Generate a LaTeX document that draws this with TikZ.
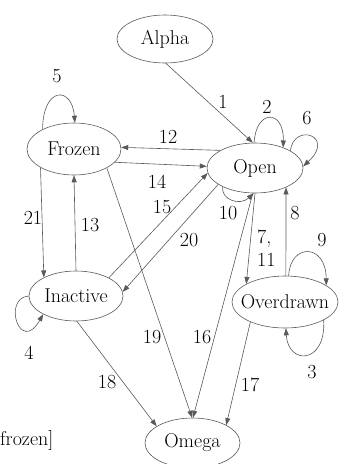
\documentclass[tikz,border=0pt]{standalone}
\usetikzlibrary{shapes.geometric,arrows.meta}

\begin{document}
\begin{tikzpicture}[x=10pt,y=10pt]
	\tikzstyle{every node}+=[inner sep=0pt,font=\fontsize{20}{23}\selectfont]
	\tikzstyle{state}=[draw=black!65,ellipse,line width=0.6pt]
	\tikzstyle{edge}=[draw=black!65,line width=0.6pt,-{Triangle[length=7pt,width=5pt]}]
	\useasboundingbox (0,0) rectangle (34,-46.4);
	\node [state,minimum width=96pt,minimum height=48pt] (alpha) at (16.5,-3.9) {};
	\node (talpha) at (alpha) {Alpha};
	\node [state,minimum width=94pt,minimum height=52pt] (frozen) at (7.4,-14.9) {};
	\node (tfrozen) at (frozen) {Frozen};
	\node [state,minimum width=96pt,minimum height=50pt] (open) at (25.5,-16.8) {};
	\node (topen) at (open) {Open};
	\node [state,minimum width=94pt,minimum height=50pt] (inactive) at (7.6,-29.6) {};
	\node (tinactive) at (inactive) {Inactive};
	\node [state,minimum width=106pt,minimum height=52pt] (overdrawn) at (28.5,-30.2) {};
	\node (toverdrawn) at (overdrawn) {Overdrawn};
	\node [state,minimum width=95pt,minimum height=50pt] (omega) at (19.25,-44.3) {};
	\node (tomega) at (omega) {Omega};
	\node [anchor=west] (lfrozen) at (0,-44.0) {frozen]};
	\draw [edge] (alpha.-88) -- (open.95);
	\node (l1) at (22.3,-10.2) {1};
	\draw [edge] (open.92) .. controls (25.6,-10.9) and (28.4,-10.9) .. (open.36);
	\node (l2) at (26.7,-10.7) {2};
	\draw [edge] (open.26) .. controls (29.4,-12.2) and (33.6,-13.6) .. (open.2);
	\node (l6) at (30.7,-11.8) {6};
	\draw [edge] (frozen.148) .. controls (4.3,-8.6) and (7.2,-8.6) .. (frozen.88);
	\node (l5) at (5.7,-7.6) {5};
	\draw [edge] (open.153) -- (frozen.2);
	\node (l12) at (16.8,-13.7) {12};
	\draw [edge] (frozen.-18) -- (open.178);
	\node (l14) at (15.7,-18.2) {14};
	\draw [edge] (inactive.29) -- (open.186);
	\node (l15) at (16.2,-20.7) {15};
	\draw [edge] (open.204) -- (inactive.5);
	\node (l20) at (18.9,-24.0) {20};
	\draw [edge] (open.210) .. controls (22.1,-20.0) and (24.0,-20.6) .. (open.-93);
	\node (l10) at (22.8,-21.3) {10};
	\draw [edge] (open.-90) -- (overdrawn.155);
	\node [align=left,anchor=west] (l7) at (25.7,-24.85) {7,\\11};
	\draw [edge] (overdrawn.88) -- (open.-32);
	\node (l8) at (29.5,-21.3) {8};
	\draw [edge] (overdrawn.82) .. controls (29.0,-24.3) and (32.6,-24.3) .. (overdrawn.22);
	\node (l9) at (32.2,-24.0) {9};
	\draw [edge] (overdrawn.-25) .. controls (32.6,-36.5) and (28.8,-36.5) .. (overdrawn.-88);
	\node (l3) at (31.2,-37.2) {3};
	\draw [edge] (inactive.180) .. controls (0.2,-29.8) and (2.0,-35.5) .. (inactive.209);
	\node (l4) at (2.9,-35.3) {4};
	\draw [edge] (frozen.209) -- (inactive.150);
	\node (l21) at (3.3,-21.8) {21};
	\draw [edge] (inactive.90) -- (frozen.-90);
	\node (l13) at (9.0,-22.5) {13};
	\draw [edge] (frozen.-30) -- (omega.91);
	\node (l19) at (15.2,-33.7) {19};
	\draw [edge] (open.-95) -- (omega.89);
	\node (l16) at (20.2,-33.7) {16};
	\draw [edge] (inactive.-88) -- (omega.155);
	\node (l18) at (10.7,-38.2) {18};
	\draw [edge] (overdrawn.210) -- (omega.28);
	\node (l17) at (25.0,-38.5) {17};
\end{tikzpicture}
\end{document}
